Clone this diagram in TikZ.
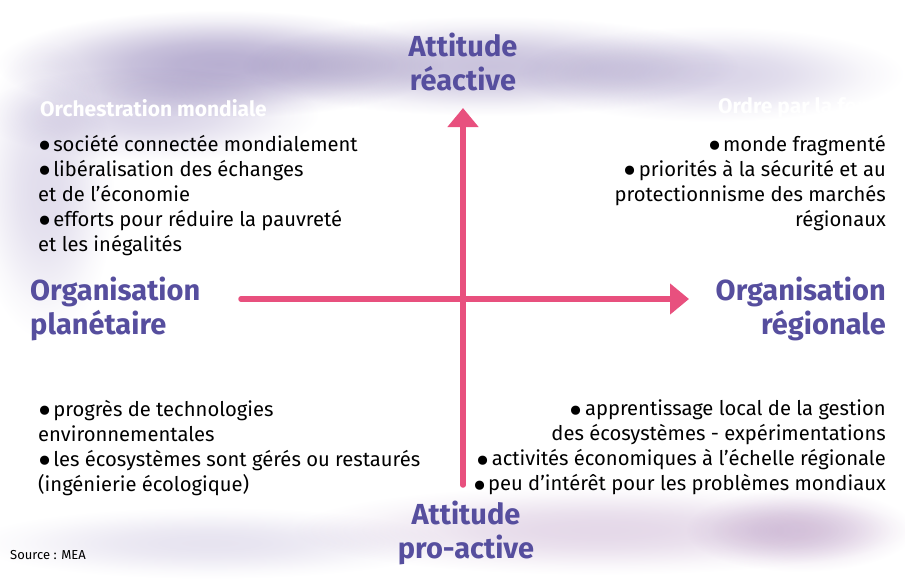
\documentclass[tikz,border=0pt]{standalone}
\usepackage{fontspec}
\setmainfont{Fira Sans}
\usepackage{tikz}
\usetikzlibrary{arrows.meta}
\definecolor{violet titre}{RGB}{86,78,158}
\definecolor{rose axe}{RGB}{232,80,126}
\definecolor{brume}{RGB}{184,175,209}
\definecolor{brume claire}{RGB}{218,213,232}
\definecolor{brume rose}{RGB}{222,207,227}
\colorlet{nuage}{brume}
\pgfdeclareradialshading[nuage]{brouillard}{\pgfpoint{0bp}{0bp}}{color(0bp)=(nuage); color(5bp)=(nuage!95!white); color(10bp)=(nuage!78!white); color(15bp)=(nuage!50!white); color(20bp)=(nuage!20!white); color(25bp)=(white); color(50bp)=(white)}
\newcommand{\puce}{\smash{\raisebox{-0.42em}{\scalebox{2}{\textbullet}}}\hspace{2pt}}
\tikzset{titre/.style={text=violet titre, inner sep=0pt,
    font={\fontsize{29}{34}\selectfont\bfseries}}}
\tikzset{entete/.style={text=white, inner sep=0pt,
    font={\fontsize{21}{22}\selectfont\bfseries}}}
\tikzset{liste/.style={text=black, inner sep=0pt,
    font={\fontsize{20.2}{25}\selectfont}}}
\tikzset{axe/.style={draw=rose axe, line width=5.5pt, line cap=round,
    -{Triangle[width=30pt,length=19pt]}}}
\tikzset{nuage/.style={/utils/exec={\colorlet{nuage}{#1}}, shading=brouillard}}

\begin{document}
\begin{tikzpicture}[x=1pt, y=-1pt]
\useasboundingbox (0,0) rectangle (905,581);
\fill [white] (0,0) rectangle (905,581);

\begin{scope}[blend mode=multiply]
\shade [nuage=brume] (220,64) ellipse [x radius=225pt, y radius=54pt];
\shade [nuage=brume!75] (490,66) ellipse [x radius=250pt, y radius=50pt];
\shade [nuage=brume claire] (710,74) ellipse [x radius=195pt, y radius=48pt];
\shade [nuage=brume claire] (150,114) ellipse [x radius=170pt, y radius=48pt];
\shade [nuage=brume claire!80] (45,190) ellipse [x radius=70pt, y radius=150pt];
\shade [nuage=brume rose!80] (600,530) ellipse [x radius=310pt, y radius=45pt];
\shade [nuage=brume rose] (800,530) ellipse [x radius=115pt, y radius=42pt];
\shade [nuage=brume claire!65] (210,543) ellipse [x radius=240pt, y radius=36pt];
\end{scope}

\node [titre, align=center] (reactive) at (463,62) {Attitude\\réactive};
\node [titre, align=center] (proactive) at (466,533) {Attitude\\pro-active};
\node [titre, align=left, anchor=west] (planetaire) at (30,309) {Organisation\\planétaire};
\node [titre, align=right, anchor=east] (regionale) at (886,309) {Organisation\\régionale};

\node [entete, anchor=west] (orchestration) at (40,108) {Orchestration mondiale};
\node [entete, anchor=east] (ordre) at (886,108) {Ordre par la force};
\node [entete, anchor=east] (mosaique) at (886,372) {Mosaïque adaptative};

\node [liste, align=left, anchor=north west] (liste1) at (38,135)
  {\puce société connectée mondialement\\
   \puce libéralisation des échanges\\
   et de l’économie\\
   \puce efforts pour réduire la pauvreté\\
   et les inégalités};
\node [liste, align=right, anchor=north east] (liste2) at (886,135)
  {\puce monde fragmenté\\
   \puce priorités à la sécurité et au\\
   protectionnisme des marchés\\
   régionaux};
\node [liste, align=left, anchor=north west] (liste3) at (38,400)
  {\puce progrès de technologies\\
   environnementales\\
   \puce les écosystèmes sont gérés ou restaurés\\
   (ingénierie écologique)};
\node [liste, align=right, anchor=north east] (liste4) at (886,400)
  {\puce apprentissage local de la gestion\\
   des écosystèmes - expérimentations\\
   \puce activités économiques à l’échelle régionale\\
   \puce peu d’intérêt pour les problèmes mondiaux};

\node [inner sep=0pt, anchor=west, font={\fontsize{13}{15}\selectfont}] (source) at (10,555) {Source : MEA};

\coordinate (bas) at (463,485);
\coordinate (haut) at (463,108);
\coordinate (gauche) at (241,299);
\coordinate (droite) at (689,299);

\draw [axe] (bas) to (haut);
\draw [axe] (gauche) to (droite);

\end{tikzpicture}
\end{document}
